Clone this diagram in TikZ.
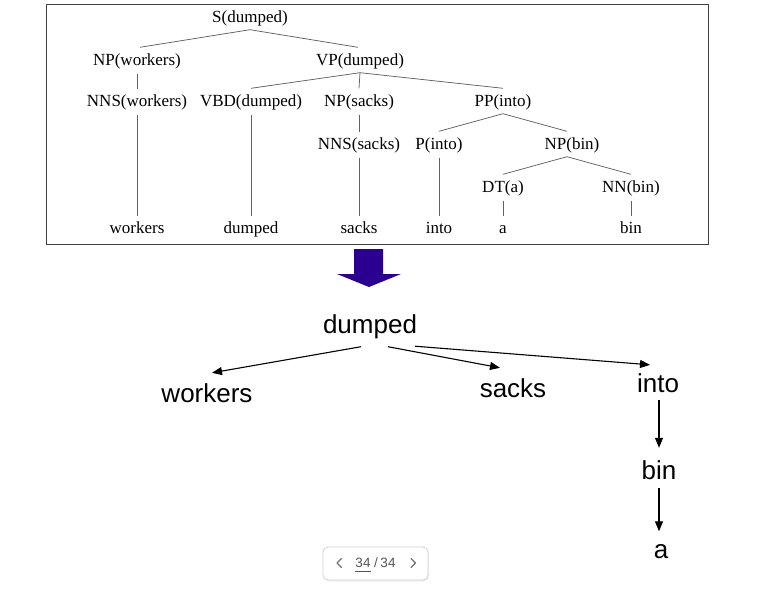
\documentclass[tikz,border=0pt]{standalone}
\usepackage{fontspec}
\setmainfont{Liberation Serif}
\newfontfamily\sansf{Liberation Sans}
\usetikzlibrary{arrows.meta}
\definecolor{bigblue}{RGB}{43,0,145}
\definecolor{pgray}{RGB}{85,85,85}
\begin{document}
\begin{tikzpicture}[x=1pt,y=-1pt,
  tn/.style={font=\fontsize{17}{20}\selectfont, text height=12pt, text depth=4pt, inner sep=0pt, minimum height=25pt},
  tl/.style={draw=black!62, line width=0.75pt},
  dn/.style={font=\sansf\fontsize{26}{30}\selectfont, text height=19pt, text depth=6pt, inner sep=0pt, minimum height=40pt},
  dep/.style={-{Triangle[length=10pt,width=8pt]}, line width=1.1pt},
  pn/.style={font=\sansf\fontsize{13.5}{15}\selectfont, text=pgray, inner sep=0pt, text height=9.5pt, text depth=0pt}
]
\useasboundingbox (0,0) rectangle (771,590);

% frame of the parse tree
\node[draw=black!75, line width=0.8pt, minimum width=662pt, minimum height=240pt, inner sep=0pt, anchor=north west] (frame) at (45.5,3.5) {};

% parse tree nodes
\node[tn] (S)    at (250,18)  {S(dumped)};
\node[tn] (NPw)  at (137,61)  {NP(workers)};
\node[tn] (VP)   at (360,61)  {VP(dumped)};
\node[tn] (NNSw) at (137,102) {NNS(workers)};
\node[tn] (VBD)  at (251,102) {VBD(dumped)};
\node[tn] (NPs)  at (359,102) {NP(sacks)};
\node[tn] (PP)   at (503,102) {PP(into)};
\node[tn] (NNSs) at (359,145) {NNS(sacks)};
\node[tn] (Pi)   at (439,145) {P(into)};
\node[tn] (NPb)  at (572,145) {NP(bin)};
\node[tn] (DT)   at (503,188) {DT(a)};
\node[tn] (NN)   at (631,188) {NN(bin)};
\node[tn] (Lw)   at (137,229.5) {workers};
\node[tn] (Ld)   at (251,229.5) {dumped};
\node[tn] (Ls)   at (359,229.5) {sacks};
\node[tn] (Li)   at (439,229.5) {into};
\node[tn] (La)   at (503,229.5) {a};
\node[tn] (Lb)   at (631,229.5) {bin};

% parse tree edges
\draw[tl] ([yshift=1pt]S.south) -- ([xshift=3pt,yshift=1pt]NPw.north);
\draw[tl] ([yshift=1pt]S.south) -- ([xshift=-2pt,yshift=1pt]VP.north);
\draw[tl] (NPw.south) -- (NNSw.north);
\draw[tl] (NNSw.south) -- ([yshift=1pt]Lw.north);
\draw[tl] ([yshift=1pt]VP.south) -- ([yshift=1pt]VBD.north);
\draw[tl] ([yshift=1pt]VP.south) -- ([yshift=1pt]NPs.north);
\draw[tl] ([yshift=1pt]VP.south) -- ([yshift=1pt]PP.north);
\draw[tl] (VBD.south) -- ([yshift=1pt]Ld.north);
\draw[tl] (NPs.south) -- (NNSs.north);
\draw[tl] (NNSs.south) -- ([yshift=1pt]Ls.north);
\draw[tl] ([yshift=1pt]PP.south) -- ([yshift=1pt]Pi.north);
\draw[tl] ([yshift=1pt]PP.south) -- ([xshift=-5pt,yshift=1pt]NPb.north);
\draw[tl] (Pi.south) -- ([yshift=1pt]Li.north);
\draw[tl] ([xshift=-5pt,yshift=1pt]NPb.south) -- ([yshift=1pt]DT.north);
\draw[tl] ([xshift=-5pt,yshift=1pt]NPb.south) -- ([yshift=1pt]NN.north);
\draw[tl] (DT.south) -- ([yshift=1pt]La.north);
\draw[tl] (NN.south) -- ([yshift=1pt]Lb.north);

% big blue arrow
\fill[bigblue] (354,249) -- (383,249) -- (383,274) -- (401,274) -- (369,287) -- (337,274) -- (354,274) -- cycle;

% dependency tree nodes
\node[dn] (dumped)  at (370,326.5) {dumped};
\node[dn] (workers) at (207,395.5) {workers};
\node[dn] (sacks)   at (513,390.5) {sacks};
\node[dn] (into)    at (658,385.5) {into};
\node[dn] (bin)     at (659,472.5) {bin};
\node[dn] (a)       at (661,551.5) {a};

% dependency arrows
\draw[dep] ([xshift=-9pt]dumped.south) -- ([xshift=5pt,yshift=2.5pt]workers.north);
\draw[dep] ([xshift=18pt]dumped.south) -- ([xshift=-13pt,yshift=2.5pt]sacks.north);
\draw[dep] ([xshift=45pt,yshift=0.5pt]dumped.south) -- ([xshift=-8pt,yshift=0.5pt]into.north);
\draw[dep] ([xshift=1pt,yshift=5.5pt]into.south) -- ([yshift=4.5pt]bin.north);
\draw[dep] ([yshift=4.5pt]bin.south) -- ([xshift=-2pt]a.north);

% pagination widget
\fill[black!6, rounded corners=5pt] (324,548.5) rectangle (429,581.5);
\draw[black!18, fill=white, line width=0.8pt, rounded corners=5pt] (323,547) rectangle (428,580);
\node[pn] (p1) at (363,563) {34};
\node[pn] (ps) at (376,563) {/};
\node[pn] (p2) at (388,563) {34};
\draw[pgray, line width=0.8pt] (355,571.5) -- (371,571.5);
\draw[black!55, line width=1.3pt, line cap=round, line join=round] (341.5,558.5) -- (337,563) -- (341.5,567.5);
\draw[black!55, line width=1.3pt, line cap=round, line join=round] (411,558.5) -- (415.5,563) -- (411,567.5);
\end{tikzpicture}
\end{document}
